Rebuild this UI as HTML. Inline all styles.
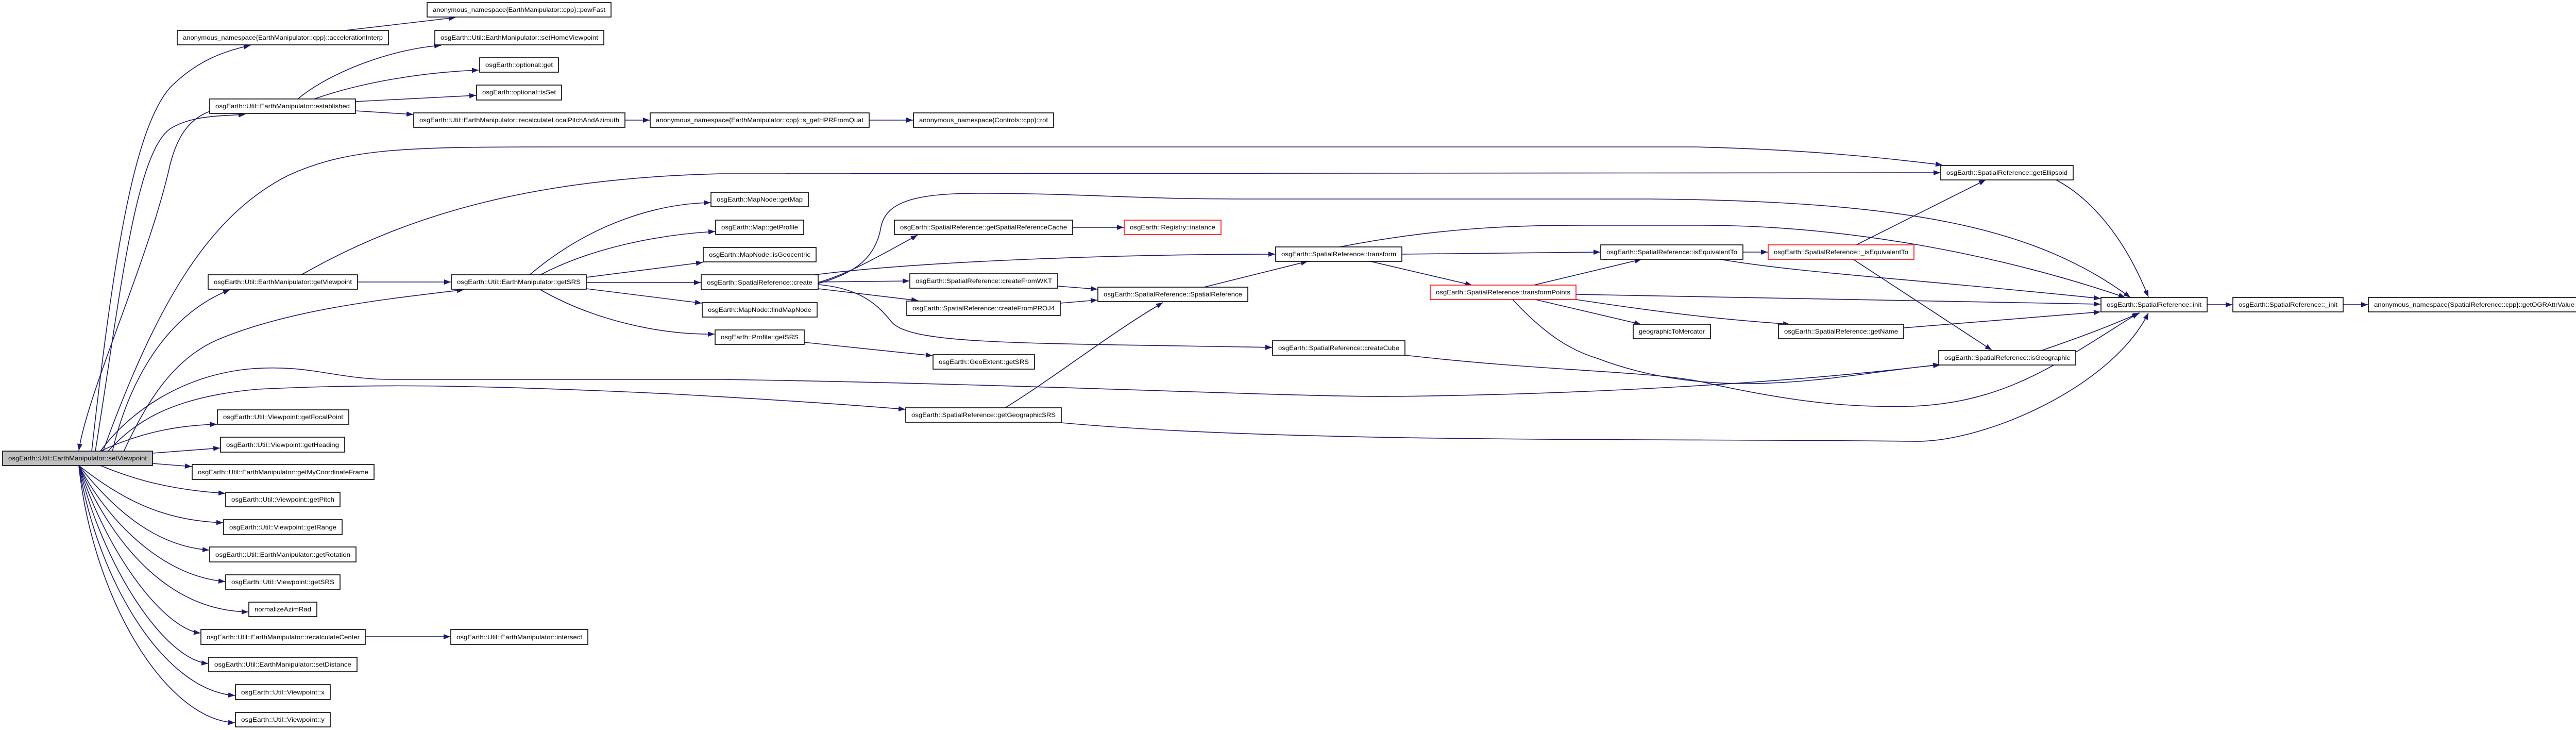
<!DOCTYPE html>
<html><head><meta charset="utf-8"><style>
html,body{margin:0;padding:0;background:#fff;}
svg{display:block;}
text{font-family:"Liberation Sans",sans-serif;font-size:12px;fill:#000;}
.e{fill:none;stroke:#191970;stroke-width:1.6;marker-end:url(#a);}
.n{fill:#fff;stroke:#000;stroke-width:1.6;}
.r{fill:#fff;stroke:#ff0000;stroke-width:1.6;}
</style></head><body>
<svg width="5013" height="1416" viewBox="0 0 5013 1416" xmlns="http://www.w3.org/2000/svg">
<defs><marker id="a" markerUnits="userSpaceOnUse" markerWidth="14" markerHeight="10" refX="13" refY="5" orient="auto"><path d="M0,0 L13,5 L0,10 z" fill="#191970"/></marker></defs>
<g>
<path class="e" d="M178,875 C220,500 260,250 330,170 C380,120 430,100 486,88"/>
<path class="e" d="M407,216 C370,230 345,260 330,320 C290,500 170,760 153,874"/>
<path class="e" d="M185,875 C230,600 260,300 330,250 C370,225 420,225 476,222"/>
<path class="e" d="M200,875 C300,600 400,420 560,340 C680,285 800,285 1100,285 L3290,285 C3500,290 3650,305 3770,320"/>
<path class="e" d="M585,533 C800,410 1050,345 1400,337 L3766,335"/>
<path class="e" d="M218,876 C240,780 300,620 446,562"/>
<path class="e" d="M240,876 C280,790 330,700 420,660 C560,600 750,580 900,562"/>
<path class="e" d="M195,875 C250,800 350,730 480,716 C600,705 650,736 760,736 L1400,736 C2000,745 2500,770 2700,769 C3100,765 3500,740 3765,707"/>
<path class="e" d="M210,875 C260,820 330,770 500,755 C700,745 900,745 1300,764 C1500,775 1650,785 1757,794"/>
<path class="e" d="M1951,791 C2050,730 2150,650 2257,587"/>
<path class="e" d="M2060,820 C2500,860 3200,850 3713,856 C3850,860 4100,750 4170,607"/>
<path class="e" d="M195,875 C260,845 330,825 421,823"/>
<path class="e" d="M296,879 L427,869"/>
<path class="e" d="M296,899 L372,905"/>
<path class="e" d="M195,903 C260,930 330,950 437,957"/>
<path class="e" d="M153,903 C250,980 330,1010 433,1014"/>
<path class="e" d="M153,903 C230,1000 310,1060 406,1067"/>
<path class="e" d="M153,903 C220,1030 330,1120 437,1128"/>
<path class="e" d="M153,903 C220,1060 330,1185 482,1187"/>
<path class="e" d="M153,903 C210,1080 320,1220 389,1228"/>
<path class="e" d="M153,903 C200,1100 320,1280 404,1287"/>
<path class="e" d="M153,903 C190,1130 320,1340 456,1349"/>
<path class="e" d="M153,903 C180,1160 320,1395 456,1402"/>
<path class="e" d="M709,1235 L874,1235"/>
<path class="e" d="M670,59 L884,34"/>
<path class="e" d="M578,192 C640,140 760,95 856,88"/>
<path class="e" d="M610,192 C700,160 820,140 929,136"/>
<path class="e" d="M690,197 L924,185"/>
<path class="e" d="M690,215 L802,222"/>
<path class="e" d="M1213,233 L1261,233"/>
<path class="e" d="M1687,233 L1772,233"/>
<path class="e" d="M694,547 L875,547"/>
<path class="e" d="M1028,533 C1150,430 1280,395 1379,393"/>
<path class="e" d="M1049,533 C1150,480 1280,455 1388,449"/>
<path class="e" d="M1138,538 L1364,509"/>
<path class="e" d="M1138,548 L1360,548"/>
<path class="e" d="M1138,560 L1362,588"/>
<path class="e" d="M1049,562 C1150,620 1280,650 1387,648"/>
<path class="e" d="M1582,533 C1800,505 2200,493 2475,493"/>
<path class="e" d="M1588,548 C1650,530 1700,500 1781,456"/>
<path class="e" d="M1588,550 C1660,530 1700,500 1710,440 C1720,390 1780,375 1900,375 C2100,375 2200,386 2400,386 L3200,386 C3700,390 3950,440 4135,577"/>
<path class="e" d="M2600,479 C2800,440 2950,437 3080,437 L3300,437 C3600,437 3900,500 4125,577"/>
<path class="e" d="M1588,547 L1765,545"/>
<path class="e" d="M1588,560 L1782,583"/>
<path class="e" d="M1588,552 C1680,560 1710,600 1731,625 C1770,670 2000,665 2469,674"/>
<path class="e" d="M2082,441 L2181,441"/>
<path class="e" d="M2053,555 L2130,561"/>
<path class="e" d="M2058,588 L2130,582"/>
<path class="e" d="M2337,557 L2538,507"/>
<path class="e" d="M1561,664 L1810,690"/>
<path class="e" d="M2721,493 L3106,489"/>
<path class="e" d="M2660,507 L2857,553"/>
<path class="e" d="M3383,489 L3431,489"/>
<path class="e" d="M3338,503 C3500,530 3700,540 4077,579"/>
<path class="e" d="M2977,553 L3186,503"/>
<path class="e" d="M3059,571 C3300,576 3600,580 4077,590"/>
<path class="e" d="M2980,581 L3185,629"/>
<path class="e" d="M3059,581 C3250,610 3350,620 3474,629"/>
<path class="e" d="M2936,581 C3000,650 3050,680 3100,695 C3350,790 3600,720 3766,708"/>
<path class="e" d="M3603,475 L3854,349"/>
<path class="e" d="M3597,503 L3866,679"/>
<path class="e" d="M3695,636 C3900,620 4000,612 4077,605"/>
<path class="e" d="M2727,689 C3000,720 3200,720 3300,740 C3500,785 3600,790 3713,788 C3900,780 4000,700 4151,607"/>
<path class="e" d="M3962,680 C4050,650 4100,630 4153,607"/>
<path class="e" d="M3991,349 C4050,380 4120,450 4170,576"/>
<path class="e" d="M4284,591 L4333,591"/>
<path class="e" d="M4548,591 L4596,591"/>
</g>
<g>
<rect x="5" y="875" width="291" height="28" fill="#bfbfbf" stroke="#000" stroke-width="1.6"/><text x="150.5" y="893" text-anchor="middle" textLength="269" lengthAdjust="spacingAndGlyphs">osgEarth::Util::EarthManipulator::setViewpoint</text>
<rect class="n" x="829" y="5" width="357" height="28"/><text x="1007.5" y="23" text-anchor="middle" textLength="335" lengthAdjust="spacingAndGlyphs">anonymous_namespace{EarthManipulator::cpp}::powFast</text>
<rect class="n" x="344" y="59" width="410" height="28"/><text x="549" y="77" text-anchor="middle" textLength="388" lengthAdjust="spacingAndGlyphs">anonymous_namespace{EarthManipulator::cpp}::accelerationInterp</text>
<rect class="n" x="844" y="59" width="328" height="28"/><text x="1008" y="77" text-anchor="middle" textLength="306" lengthAdjust="spacingAndGlyphs">osgEarth::Util::EarthManipulator::setHomeViewpoint</text>
<rect class="n" x="931" y="112" width="153" height="28"/><text x="1007.5" y="130" text-anchor="middle" textLength="131" lengthAdjust="spacingAndGlyphs">osgEarth::optional::get</text>
<rect class="n" x="925" y="165" width="165" height="29"/><text x="1007.5" y="183" text-anchor="middle" textLength="143" lengthAdjust="spacingAndGlyphs">osgEarth::optional::isSet</text>
<rect class="n" x="407" y="192" width="283" height="28"/><text x="548.5" y="210" text-anchor="middle" textLength="261" lengthAdjust="spacingAndGlyphs">osgEarth::Util::EarthManipulator::established</text>
<rect class="n" x="803" y="219" width="410" height="28"/><text x="1008" y="237" text-anchor="middle" textLength="388" lengthAdjust="spacingAndGlyphs">osgEarth::Util::EarthManipulator::recalculateLocalPitchAndAzimuth</text>
<rect class="n" x="1262" y="219" width="425" height="28"/><text x="1474.5" y="237" text-anchor="middle" textLength="403" lengthAdjust="spacingAndGlyphs">anonymous_namespace{EarthManipulator::cpp}::s_getHPRFromQuat</text>
<rect class="n" x="1773" y="219" width="272" height="28"/><text x="1909" y="237" text-anchor="middle" textLength="250" lengthAdjust="spacingAndGlyphs">anonymous_namespace{Controls::cpp}::rot</text>
<rect class="n" x="404" y="533" width="290" height="28"/><text x="549" y="551" text-anchor="middle" textLength="268" lengthAdjust="spacingAndGlyphs">osgEarth::Util::EarthManipulator::getViewpoint</text>
<rect class="n" x="876" y="533" width="262" height="28"/><text x="1007" y="551" text-anchor="middle" textLength="240" lengthAdjust="spacingAndGlyphs">osgEarth::Util::EarthManipulator::getSRS</text>
<rect class="n" x="1380" y="373" width="189" height="28"/><text x="1474.5" y="391" text-anchor="middle" textLength="167" lengthAdjust="spacingAndGlyphs">osgEarth::MapNode::getMap</text>
<rect class="n" x="1389" y="427" width="171" height="28"/><text x="1474.5" y="445" text-anchor="middle" textLength="149" lengthAdjust="spacingAndGlyphs">osgEarth::Map::getProfile</text>
<rect class="n" x="1365" y="480" width="219" height="28"/><text x="1474.5" y="498" text-anchor="middle" textLength="197" lengthAdjust="spacingAndGlyphs">osgEarth::MapNode::isGeocentric</text>
<rect class="n" x="1361" y="533" width="227" height="29"/><text x="1474.5" y="552" text-anchor="middle" textLength="205" lengthAdjust="spacingAndGlyphs">osgEarth::SpatialReference::create</text>
<rect class="n" x="1363" y="587" width="223" height="28"/><text x="1474.5" y="605" text-anchor="middle" textLength="201" lengthAdjust="spacingAndGlyphs">osgEarth::MapNode::findMapNode</text>
<rect class="n" x="1388" y="640" width="173" height="28"/><text x="1474.5" y="658" text-anchor="middle" textLength="151" lengthAdjust="spacingAndGlyphs">osgEarth::Profile::getSRS</text>
<rect class="n" x="1736" y="427" width="346" height="28"/><text x="1909" y="445" text-anchor="middle" textLength="324" lengthAdjust="spacingAndGlyphs">osgEarth::SpatialReference::getSpatialReferenceCache</text>
<rect class="r" x="2182" y="427" width="188" height="28"/><text x="2276" y="445" text-anchor="middle" textLength="166" lengthAdjust="spacingAndGlyphs">osgEarth::Registry::instance</text>
<rect class="n" x="1766" y="531" width="287" height="28"/><text x="1909.5" y="549" text-anchor="middle" textLength="265" lengthAdjust="spacingAndGlyphs">osgEarth::SpatialReference::createFromWKT</text>
<rect class="n" x="1760" y="584" width="298" height="28"/><text x="1909" y="602" text-anchor="middle" textLength="276" lengthAdjust="spacingAndGlyphs">osgEarth::SpatialReference::createFromPROJ4</text>
<rect class="n" x="2131" y="557" width="291" height="28"/><text x="2276.5" y="575" text-anchor="middle" textLength="269" lengthAdjust="spacingAndGlyphs">osgEarth::SpatialReference::SpatialReference</text>
<rect class="n" x="1811" y="688" width="197" height="28"/><text x="1909.5" y="706" text-anchor="middle" textLength="175" lengthAdjust="spacingAndGlyphs">osgEarth::GeoExtent::getSRS</text>
<rect class="n" x="1758" y="791" width="302" height="28"/><text x="1909" y="809" text-anchor="middle" textLength="280" lengthAdjust="spacingAndGlyphs">osgEarth::SpatialReference::getGeographicSRS</text>
<rect class="n" x="2476" y="479" width="245" height="28"/><text x="2598.5" y="497" text-anchor="middle" textLength="223" lengthAdjust="spacingAndGlyphs">osgEarth::SpatialReference::transform</text>
<rect class="n" x="2470" y="661" width="257" height="28"/><text x="2598.5" y="679" text-anchor="middle" textLength="235" lengthAdjust="spacingAndGlyphs">osgEarth::SpatialReference::createCube</text>
<rect class="n" x="3767" y="321" width="257" height="28"/><text x="3895.5" y="339" text-anchor="middle" textLength="235" lengthAdjust="spacingAndGlyphs">osgEarth::SpatialReference::getEllipsoid</text>
<rect class="n" x="3107" y="475" width="276" height="28"/><text x="3245" y="493" text-anchor="middle" textLength="254" lengthAdjust="spacingAndGlyphs">osgEarth::SpatialReference::isEquivalentTo</text>
<rect class="r" x="3432" y="475" width="283" height="28"/><text x="3573.5" y="493" text-anchor="middle" textLength="261" lengthAdjust="spacingAndGlyphs">osgEarth::SpatialReference::_isEquivalentTo</text>
<rect class="r" x="2776" y="553" width="283" height="28"/><text x="2917.5" y="571" text-anchor="middle" textLength="261" lengthAdjust="spacingAndGlyphs">osgEarth::SpatialReference::transformPoints</text>
<rect class="n" x="3170" y="629" width="150" height="28"/><text x="3245" y="647" text-anchor="middle" textLength="128" lengthAdjust="spacingAndGlyphs">geographicToMercator</text>
<rect class="n" x="3452" y="629" width="243" height="28"/><text x="3573.5" y="647" text-anchor="middle" textLength="221" lengthAdjust="spacingAndGlyphs">osgEarth::SpatialReference::getName</text>
<rect class="n" x="3763" y="680" width="266" height="28"/><text x="3896" y="698" text-anchor="middle" textLength="244" lengthAdjust="spacingAndGlyphs">osgEarth::SpatialReference::isGeographic</text>
<rect class="n" x="4078" y="577" width="206" height="28"/><text x="4181" y="595" text-anchor="middle" textLength="184" lengthAdjust="spacingAndGlyphs">osgEarth::SpatialReference::init</text>
<rect class="n" x="4334" y="577" width="214" height="28"/><text x="4441" y="595" text-anchor="middle" textLength="192" lengthAdjust="spacingAndGlyphs">osgEarth::SpatialReference::_init</text>
<rect class="n" x="4597" y="577" width="411" height="28"/><text x="4802.5" y="595" text-anchor="middle" textLength="389" lengthAdjust="spacingAndGlyphs">anonymous_namespace{SpatialReference::cpp}::getOGRAttrValue</text>
<rect class="n" x="422" y="795" width="255" height="28"/><text x="549.5" y="813" text-anchor="middle" textLength="233" lengthAdjust="spacingAndGlyphs">osgEarth::Util::Viewpoint::getFocalPoint</text>
<rect class="n" x="428" y="848" width="241" height="29"/><text x="548.5" y="867" text-anchor="middle" textLength="219" lengthAdjust="spacingAndGlyphs">osgEarth::Util::Viewpoint::getHeading</text>
<rect class="n" x="373" y="901" width="353" height="29"/><text x="549.5" y="920" text-anchor="middle" textLength="331" lengthAdjust="spacingAndGlyphs">osgEarth::Util::EarthManipulator::getMyCoordinateFrame</text>
<rect class="n" x="438" y="955" width="222" height="28"/><text x="549" y="973" text-anchor="middle" textLength="200" lengthAdjust="spacingAndGlyphs">osgEarth::Util::Viewpoint::getPitch</text>
<rect class="n" x="434" y="1008" width="230" height="29"/><text x="549" y="1027" text-anchor="middle" textLength="208" lengthAdjust="spacingAndGlyphs">osgEarth::Util::Viewpoint::getRange</text>
<rect class="n" x="407" y="1061" width="284" height="29"/><text x="549" y="1080" text-anchor="middle" textLength="262" lengthAdjust="spacingAndGlyphs">osgEarth::Util::EarthManipulator::getRotation</text>
<rect class="n" x="438" y="1115" width="222" height="28"/><text x="549" y="1133" text-anchor="middle" textLength="200" lengthAdjust="spacingAndGlyphs">osgEarth::Util::Viewpoint::getSRS</text>
<rect class="n" x="483" y="1168" width="132" height="28"/><text x="549" y="1186" text-anchor="middle" textLength="110" lengthAdjust="spacingAndGlyphs">normalizeAzimRad</text>
<rect class="n" x="390" y="1221" width="319" height="29"/><text x="549.5" y="1240" text-anchor="middle" textLength="297" lengthAdjust="spacingAndGlyphs">osgEarth::Util::EarthManipulator::recalculateCenter</text>
<rect class="n" x="875" y="1221" width="266" height="29"/><text x="1008" y="1240" text-anchor="middle" textLength="244" lengthAdjust="spacingAndGlyphs">osgEarth::Util::EarthManipulator::intersect</text>
<rect class="n" x="405" y="1275" width="288" height="28"/><text x="549" y="1293" text-anchor="middle" textLength="266" lengthAdjust="spacingAndGlyphs">osgEarth::Util::EarthManipulator::setDistance</text>
<rect class="n" x="457" y="1328" width="184" height="29"/><text x="549" y="1347" text-anchor="middle" textLength="162" lengthAdjust="spacingAndGlyphs">osgEarth::Util::Viewpoint::x</text>
<rect class="n" x="457" y="1382" width="184" height="28"/><text x="549" y="1400" text-anchor="middle" textLength="162" lengthAdjust="spacingAndGlyphs">osgEarth::Util::Viewpoint::y</text>
</g>
</svg>
</body></html>
